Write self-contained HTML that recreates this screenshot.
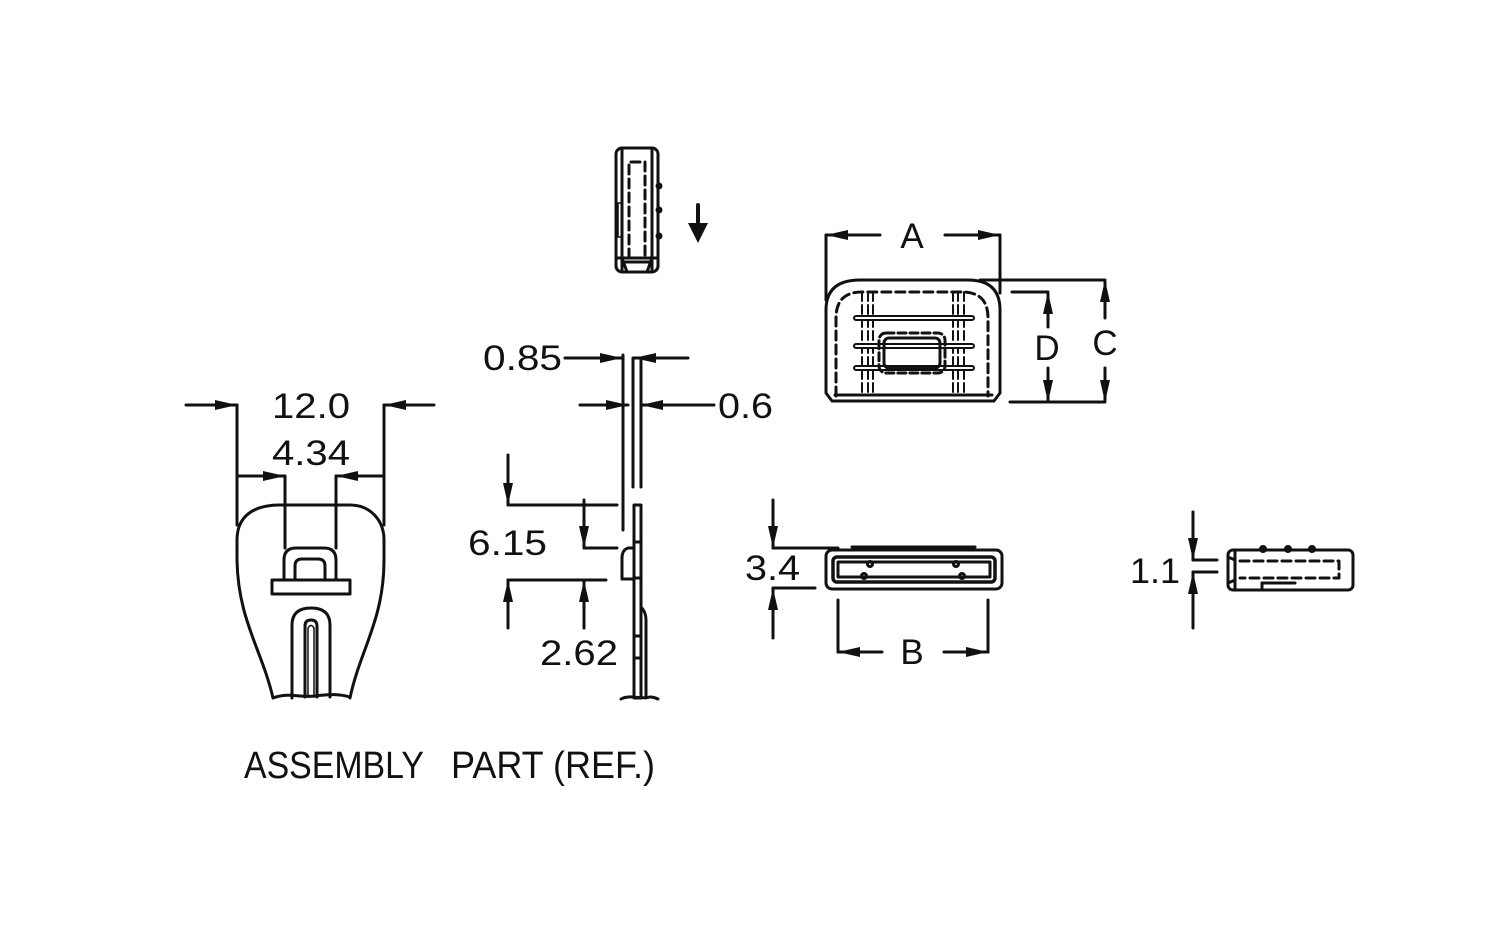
<!DOCTYPE html>
<html><head><meta charset="utf-8"><style>
html,body{margin:0;padding:0;background:#fff;}
svg{display:block;}
text{font-family:"Liberation Sans",sans-serif;fill:#111;}
</style></head><body>
<svg width="1503" height="942" viewBox="0 0 1503 942" xmlns="http://www.w3.org/2000/svg">
<g fill="none" stroke="#111" stroke-width="3" stroke-linejoin="round" stroke-linecap="round">
<!-- ASSEMBLY left part -->
<line x1="186" y1="405" x2="237" y2="405"/>
<polygon points="237,405 215,400 215,410" fill="#111" stroke="none"/>
<line x1="237" y1="405" x2="237" y2="525"/>
<line x1="384" y1="405" x2="384" y2="525"/>
<line x1="384" y1="405" x2="434" y2="405"/>
<polygon points="384,405 406,400 406,410" fill="#111" stroke="none"/>
<line x1="237" y1="476" x2="285" y2="476"/>
<polygon points="285,476 263,471 263,481" fill="#111" stroke="none"/>
<line x1="336" y1="476" x2="384" y2="476"/>
<polygon points="336,476 358,471 358,481" fill="#111" stroke="none"/>
<line x1="285" y1="476" x2="285" y2="548"/>
<line x1="336" y1="476" x2="336" y2="548"/>
<path d="M273,698 C262,650 238,620 237,560 L237,540 C237,515 255,505 280,505 L350,505 C370,505 384,520 384,540 L384,560 C384,620 360,650 350,698"/>
<path d="M273,698 C290,692 300,698 315,696 C330,694 340,694 350,697"/>
<rect x="272" y="580" width="78" height="14"/>
<path d="M284,580 L284,560 Q284,548 296,548 L324,548 Q336,548 336,560 L336,580"/>
<path d="M295,580 L295,566 Q295,559 302,559 L318,559 Q325,559 325,566 L325,580"/>
<path d="M292,698 L292,625 Q292,608 311,608 Q330,608 330,625 L330,697"/>
<path d="M305,697 L305,626 Q305,620 311,620 Q317,620 317,626 L317,697"/>
<path d="M308,697 L308,628 Q311,623 314,628 L314,697" stroke-width="1.5"/>
<text x="272" y="418" font-size="35" textLength="78" lengthAdjust="spacingAndGlyphs" stroke="none">12.0</text>
<text x="272" y="465" font-size="35" textLength="78" lengthAdjust="spacingAndGlyphs" stroke="none">4.34</text>

<!-- side view -->
<line x1="623" y1="355" x2="623" y2="530"/>
<line x1="633" y1="358" x2="633" y2="487"/>
<line x1="641" y1="358" x2="641" y2="487"/>
<rect x="634" y="505" width="7" height="193"/>
<line x1="634" y1="542" x2="641" y2="542"/>
<line x1="634" y1="578" x2="641" y2="578"/>
<line x1="634" y1="636" x2="641" y2="636"/>
<line x1="634" y1="658" x2="641" y2="658"/>
<path d="M634,548 L628,548 Q622,550 622,558 L622,579 L634,579"/>
<path d="M641,607 Q646,612 646,620 L646,698"/>
<path d="M621,699 C630,694 640,700 650,697 C654,697 656,698 658,699"/>
<line x1="565" y1="358" x2="622" y2="358"/>
<polygon points="622,358 600,353 600,363" fill="#111" stroke="none"/>
<line x1="634" y1="358" x2="688" y2="358"/>
<polygon points="634,358 656,353 656,363" fill="#111" stroke="none"/>
<line x1="580" y1="405" x2="628" y2="405"/>
<polygon points="628,405 606,400 606,410" fill="#111" stroke="none"/>
<line x1="641" y1="405" x2="714" y2="405"/>
<polygon points="641,405 663,400 663,410" fill="#111" stroke="none"/>
<text x="483" y="370" font-size="35" textLength="79" lengthAdjust="spacingAndGlyphs" stroke="none">0.85</text>
<text x="718" y="418" font-size="35" textLength="55" lengthAdjust="spacingAndGlyphs" stroke="none">0.6</text>
<line x1="508" y1="455" x2="508" y2="505"/>
<polygon points="508,505 503,483 513,483" fill="#111" stroke="none"/>
<line x1="508" y1="505" x2="617" y2="505"/>
<line x1="584" y1="500" x2="584" y2="548"/>
<polygon points="584,548 579,526 589,526" fill="#111" stroke="none"/>
<line x1="584" y1="548" x2="617" y2="548"/>
<line x1="508" y1="580" x2="606" y2="580"/>
<line x1="508" y1="628" x2="508" y2="580"/>
<polygon points="508,580 503,602 513,602" fill="#111" stroke="none"/>
<line x1="584" y1="628" x2="584" y2="580"/>
<polygon points="584,580 579,602 589,602" fill="#111" stroke="none"/>
<text x="468" y="555" font-size="35" textLength="79" lengthAdjust="spacingAndGlyphs" stroke="none">6.15</text>
<text x="540" y="665" font-size="35" textLength="78" lengthAdjust="spacingAndGlyphs" stroke="none">2.62</text>

<!-- top small part -->
<rect x="616" y="148" width="42" height="124" rx="6"/>
<line x1="622" y1="148" x2="622" y2="272"/>
<line x1="652" y1="148" x2="652" y2="272"/>
<path d="M629,258 L629,162 L645,162 L645,258" stroke-dasharray="9,5"/>
<line x1="616" y1="258" x2="658" y2="258"/>
<line x1="622" y1="262" x2="652" y2="262"/>
<line x1="622" y1="258" x2="627" y2="272"/>
<line x1="652" y1="258" x2="647" y2="272"/>
<path d="M616,203 L622,203 M616,237 L622,237 M618,203 L618,237" stroke-width="1.5"/>
<circle cx="659" cy="186" r="2" fill="#111"/>
<circle cx="659" cy="210" r="2" fill="#111"/>
<circle cx="659" cy="236" r="2" fill="#111"/>
<line x1="698" y1="205" x2="698" y2="225" stroke-width="4"/>
<polygon points="698,243 688,223 708,223" fill="#111" stroke="none"/>

<!-- A/C/D part -->
<line x1="826" y1="235" x2="826" y2="300"/>
<line x1="1000" y1="235" x2="1000" y2="293"/>
<line x1="826" y1="235" x2="880" y2="235"/>
<polygon points="826,235 848,230 848,240" fill="#111" stroke="none"/>
<line x1="945" y1="235" x2="1000" y2="235"/>
<polygon points="1000,235 978,230 978,240" fill="#111" stroke="none"/>
<text x="912" y="248" font-size="35" text-anchor="middle" stroke="none">A</text>
<path d="M826,393 L826,310 Q826,280 860,280 L968,280 Q1000,280 1000,310 L1000,393 L994,401 L832,401 Z"/>
<line x1="835" y1="395" x2="992" y2="395"/>
<path d="M836,396 L836,318 Q836,292 862,292 L962,292 Q988,292 988,318 L988,396" stroke-dasharray="9,5"/>
<path d="M862,292 L862,396 M868,292 L868,396 M873,292 L873,396 M953,292 L953,396 M958,292 L958,396 M964,292 L964,396" stroke-dasharray="9,4" stroke-width="2"/>
<path d="M856,318 L972,318 M856,346 L972,346 M856,368 L972,368" stroke-width="6" stroke="#111"/>
<path d="M856,318 L972,318 M856,346 L972,346 M856,368 L972,368" stroke-width="2" stroke="#fff"/>
<rect x="879" y="333" width="66" height="40" rx="7" stroke-dasharray="8,4"/>
<rect x="884" y="338" width="56" height="30" rx="5"/>
<line x1="980" y1="280" x2="1105" y2="280"/>
<line x1="1010" y1="402" x2="1105" y2="402"/>
<line x1="1105" y1="282" x2="1105" y2="318"/>
<polygon points="1105,280 1100,302 1110,302" fill="#111" stroke="none"/>
<line x1="1105" y1="368" x2="1105" y2="400"/>
<polygon points="1105,402 1100,380 1110,380" fill="#111" stroke="none"/>
<text x="1105" y="355" font-size="35" text-anchor="middle" stroke="none">C</text>
<line x1="1012" y1="292" x2="1048" y2="292"/>
<line x1="1048" y1="294" x2="1048" y2="327"/>
<polygon points="1048,292 1043,314 1053,314" fill="#111" stroke="none"/>
<line x1="1048" y1="368" x2="1048" y2="400"/>
<polygon points="1048,402 1043,380 1053,380" fill="#111" stroke="none"/>
<text x="1047" y="360" font-size="35" text-anchor="middle" stroke="none">D</text>

<!-- B part -->
<rect x="826" y="550" width="176" height="39" rx="6"/>
<line x1="852" y1="547" x2="975" y2="547" stroke-width="3"/>
<rect x="833" y="557" width="162" height="25" rx="4" stroke-width="3.5"/>
<rect x="838" y="562" width="152" height="15"/>
<circle cx="870" cy="564" r="2.5"/><circle cx="956" cy="564" r="2.5"/>
<circle cx="864" cy="576" r="2.5"/><circle cx="962" cy="576" r="2.5"/>
<line x1="773" y1="500" x2="773" y2="548"/>
<polygon points="773,548 768,526 778,526" fill="#111" stroke="none"/>
<line x1="773" y1="548" x2="838" y2="548"/>
<line x1="773" y1="588" x2="815" y2="588"/>
<line x1="773" y1="638" x2="773" y2="588"/>
<polygon points="773,588 768,610 778,610" fill="#111" stroke="none"/>
<text x="745" y="580" font-size="35" textLength="55" lengthAdjust="spacingAndGlyphs" stroke="none">3.4</text>
<line x1="838" y1="600" x2="838" y2="652"/>
<line x1="988" y1="600" x2="988" y2="652"/>
<line x1="838" y1="652" x2="882" y2="652"/>
<polygon points="838,652 860,647 860,657" fill="#111" stroke="none"/>
<line x1="944" y1="652" x2="988" y2="652"/>
<polygon points="988,652 966,647 966,657" fill="#111" stroke="none"/>
<text x="912" y="664" font-size="35" text-anchor="middle" stroke="none">B</text>

<!-- 1.1 part -->
<rect x="1228" y="550" width="125" height="40" rx="5"/>
<line x1="1235" y1="550" x2="1235" y2="590"/>
<line x1="1228" y1="557" x2="1235" y2="560"/>
<line x1="1228" y1="583" x2="1235" y2="580"/>
<path d="M1240,561 L1339,561 L1339,578 L1240,578" stroke-dasharray="9,5"/>
<line x1="1262" y1="583" x2="1295" y2="583"/>
<line x1="1262" y1="583" x2="1262" y2="590"/>
<circle cx="1263" cy="549" r="2.5" fill="#111"/>
<circle cx="1288" cy="549" r="2.5" fill="#111"/>
<circle cx="1312" cy="549" r="2.5" fill="#111"/>
<line x1="1193" y1="560" x2="1217" y2="560"/>
<line x1="1193" y1="572" x2="1217" y2="572"/>
<line x1="1193" y1="512" x2="1193" y2="560"/>
<polygon points="1193,560 1188,538 1198,538" fill="#111" stroke="none"/>
<line x1="1193" y1="628" x2="1193" y2="572"/>
<polygon points="1193,572 1188,594 1198,594" fill="#111" stroke="none"/>
<text x="1130" y="583" font-size="35" textLength="50" lengthAdjust="spacingAndGlyphs" stroke="none">1.1</text>

<text x="244" y="778" font-size="38" textLength="180" lengthAdjust="spacingAndGlyphs" stroke="none">ASSEMBLY</text>
<text x="451" y="778" font-size="38" textLength="204" lengthAdjust="spacingAndGlyphs" stroke="none">PART (REF.)</text>
</g>
</svg>
</body></html>
